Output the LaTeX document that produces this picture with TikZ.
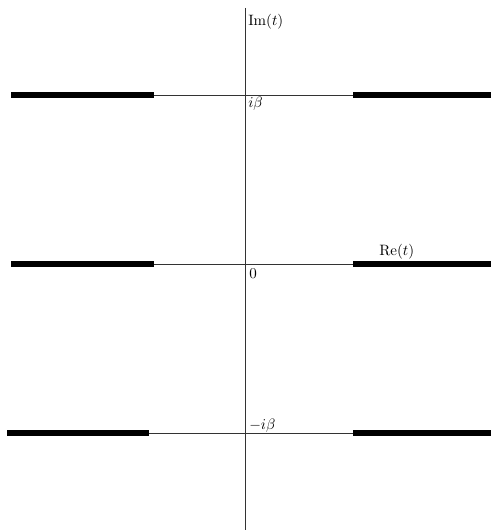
\documentclass[tikz,border=0pt]{standalone}
\begin{document}
\begin{tikzpicture}[x=0.6667pt,y=-0.6667pt,
  axis/.style={line width=0.6pt,draw=black!80},
  cut/.style={line width=3.7pt,draw=black},
  lbl/.style={inner sep=0pt,anchor=base west}]
\useasboundingbox (0,0) rectangle (491,530);
% vertical axis
\coordinate (vt) at (245,8);
\coordinate (vb) at (245,530);
\draw[axis] (vt) -- (vb);
% horizontal lines
\foreach \y/\l in {95/a,264/b,433/c}{
  \coordinate (R1\l) at (353,\y);
  \coordinate (R2\l) at (491,\y);
}
\coordinate (L1a) at (11,95);  \coordinate (L2a) at (154,95);
\coordinate (L1b) at (11,264); \coordinate (L2b) at (154,264);
\coordinate (L1c) at (7,433);  \coordinate (L2c) at (149,433);
\foreach \l in {a,b,c}{
  \draw[axis] (L2\l) -- (R1\l);
  \draw[cut] (L1\l) -- (L2\l);
  \draw[cut] (R1\l) -- (R2\l);
}
% labels
\node[lbl] (im) at (248,26) {$\mathrm{Im}(t)$};
\node[lbl] (ib) at (248,108) {$i\beta$};
\node[lbl] (zero) at (249,278) {$0$};
\node[lbl] (re) at (379,255) {$\mathrm{Re}(t)$};
\node[lbl] (mib) at (249,429) {$-i\beta$};
\end{tikzpicture}
\end{document}
